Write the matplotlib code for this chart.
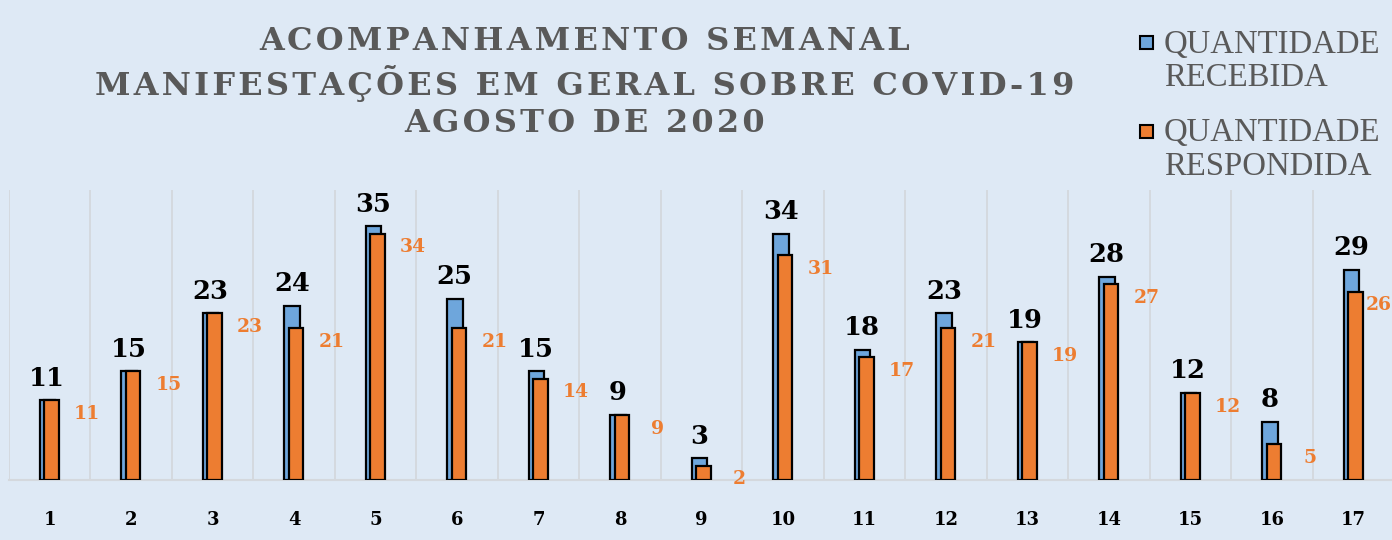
import matplotlib
matplotlib.use("Agg")
import matplotlib.pyplot as plt
import numpy as np
from matplotlib.patches import Rectangle

categories = [str(i) for i in range(1, 18)]
recebida = [11, 15, 23, 24, 35, 25, 15, 9, 3, 34, 18, 23, 19, 28, 12, 8, 29]
respondida = [11, 15, 23, 21, 34, 21, 14, 9, 2, 31, 17, 21, 19, 27, 12, 5, 26]
title_lines = ["ACOMPANHAMENTO SEMANAL",
               "MANIFESTAÇÕES EM GERAL SOBRE COVID-19",
               "AGOSTO DE 2020"]
legend_labels = ["QUANTIDADE\nRECEBIDA", "QUANTIDADE\nRESPONDIDA"]

BG = "#dee9f5"
BLUE = "#6ea6dc"
ORANGE = "#ed7d31"
GRID = "#d4d8dd"
GRAY_TXT = "#595959"

fig = plt.figure(figsize=(13.92, 5.4), dpi=100, facecolor=BG)
W, H = 1392, 540
left_px, right_px, top_px, bot_px = 9, 1394.5, 190, 480
ax = fig.add_axes([left_px / W, (H - bot_px) / H, (right_px - left_px) / W, (bot_px - top_px) / H])
ax.set_facecolor(BG)

x = np.arange(len(categories))
bw = 0.19
off = 0.05
ax.bar(x - 0.03, recebida, width=bw, color=BLUE, edgecolor="black", linewidth=1.6, zorder=3)
ax.bar(x - 0.03 + off, respondida, width=bw * 0.92, color=ORANGE, edgecolor="black", linewidth=1.6, zorder=4)

ax.set_xlim(-0.5, len(categories) - 0.5)
ax.set_ylim(0, 40)
for s in ["top", "right", "left"]:
    ax.spines[s].set_visible(False)
ax.spines["bottom"].set_color(GRID)
ax.spines["bottom"].set_linewidth(1.5)
ax.set_yticks([])
ax.set_xticks(x)
ax.set_xticklabels(categories, fontfamily="DejaVu Serif", fontweight="bold", fontsize=13, color="black")
ax.tick_params(axis="x", length=0, pad=22)
ax.set_xticks(np.arange(-0.5, len(categories), 1.0), minor=True)
ax.tick_params(axis="x", which="minor", length=0)
ax.grid(axis="x", which="minor", color=GRID, linewidth=1.3, zorder=0)
ax.grid(axis="x", which="major", visible=False)

for xi, v in zip(x, recebida):
    ax.annotate(str(v), (xi - 0.03, v), xytext=(0, 7), textcoords="offset points",
                ha="center", va="bottom", fontfamily="DejaVu Serif", fontweight="bold",
                fontsize=18.5, color="black", zorder=5)
xmax = len(categories) - 0.5
for xi, v in zip(x, respondida):
    lx = min(xi + 0.46, xmax - 0.19)
    ax.annotate(str(v), (lx, v), xytext=(0, -10), textcoords="offset points",
                ha="center", va="center", fontfamily="DejaVu Serif", fontweight="bold",
                fontsize=13.5, color=ORANGE, zorder=5)

def spaced(s):
    return "\u200a".join(s)

ys = [42, 84, 124]
for line, yp in zip(title_lines, ys):
    fig.text(585 / W, 1 - yp / H, spaced(line), ha="center", va="center", fontfamily="DejaVu Serif",
             fontweight="bold", fontsize=23, color=GRAY_TXT)

for lab, yp, col in zip(legend_labels, [42, 131], [BLUE, ORANGE]):
    fig.patches.append(Rectangle((1140 / W, 1 - (yp + 7) / H), 13 / W, 13 / H,
                                 transform=fig.transFigure, facecolor=col, edgecolor="black",
                                 linewidth=1.5, figure=fig))
    fig.text(1164 / W, 1 - (yp - 13) / H, lab, ha="left", va="top", fontfamily="Liberation Serif",
             fontsize=23.6, color=GRAY_TXT, linespacing=1.14)

fig.savefig("out.png", dpi=100, facecolor=BG)
